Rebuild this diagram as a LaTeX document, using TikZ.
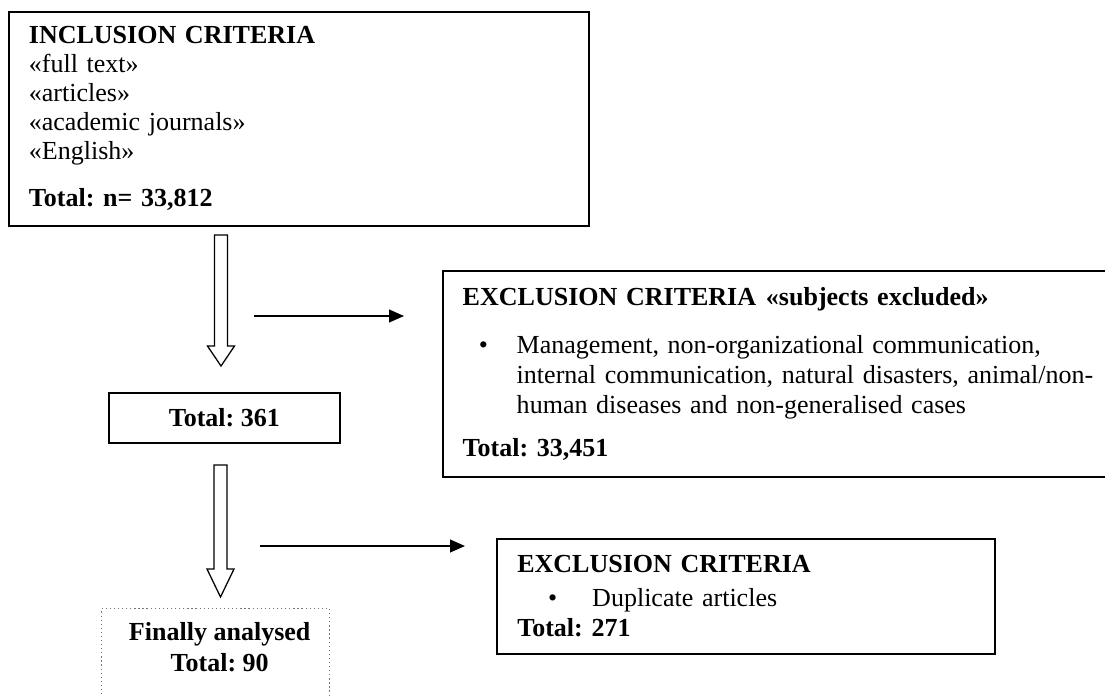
\documentclass[tikz,border=0pt]{standalone}
\usepackage{fontspec}
\setmainfont{Liberation Serif}
\usetikzlibrary{arrows.meta, calc}
\tikzset{
  flowfig/.style={
    x=0.025cm, y=-0.025cm,
    every node/.append style={font=\fontsize{18.5pt}{20.6pt}\selectfont\frenchspacing},
    >={Triangle[length=10.5pt, width=9pt]},
  },
  critbox/.style={
    draw=black, line width=1.1pt, anchor=north west, align=left,
    inner xsep=14.2pt, inner ysep=0pt,
  },
  totalbox/.style={draw=black, line width=1.1pt, anchor=north west, inner sep=0pt},
  % Letzter Kasten: gepunktet, unten abgeschnitten.
  finalbox/.style={draw=black!55, line width=0.9pt, dotted, anchor=north west, inner sep=0pt},
  finaltext/.style={anchor=north, align=center, inner sep=0pt,
    font=\fontsize{18.5pt}{22pt}\selectfont\bfseries\frenchspacing},
  flow/.style={draw=black, line width=1pt, ->},
  hollowarrow/.style={draw=black, line width=0.9pt, fill=white},
}
% hohler Pfeil nach unten: Start, Spitze, Kopflaenge
\newcommand{\hollowdown}[3]{%
  \draw[hollowarrow] let \p1=(#1), \p2=(#2) in
    (\x1-4.6pt,\y1) -- (\x1+4.6pt,\y1) -- (\x1+4.6pt,\y2+#3) -- (\x1+9.6pt,\y2+#3)
    -- (\x2,\y2) -- (\x1-9.6pt,\y2+#3) -- (\x1-4.6pt,\y2+#3) -- cycle;}

\begin{document}
\begin{tikzpicture}[flowfig]
  \useasboundingbox (0,0) rectangle (1105,697);

  \node[critbox, minimum width=412.6pt, minimum height=152.2pt, text width=384pt] (incl) at (8,11)
    {\textbf{INCLUSION CRITERIA}\\ «full text»\\ «articles»\\ «academic journals»\\ «English»\\[12.8pt]
     \textbf{Total: n= 33,812}};

  \node[totalbox, minimum width=164.3pt, minimum height=35.6pt] (n361) at (108,392)
    {\textbf{Total: 361}};

  \node[critbox, minimum width=475.1pt, minimum height=146.5pt, text width=455pt,
        font=\fontsize{18.5pt}{21.3pt}\selectfont\frenchspacing] (excl1) at (442,270)
    {\textbf{EXCLUSION CRITERIA\hspace{7pt}«subjects excluded»}\\[12.8pt]
     \hspace*{11.4pt}\makebox[27pt][l]{\textbullet}\parbox[t]{430pt}{Management, non-organizational communication,\\
       internal communication, natural disasters, animal/non-\\
       human diseases and non-generalised cases}\\[12.8pt]
     \textbf{Total: 33,451}};

  \node[critbox, minimum width=354.2pt, minimum height=81.8pt, text width=325pt,
        inner xsep=13.5pt, font=\fontsize{18.5pt}{21.3pt}\selectfont\frenchspacing] (excl2) at (496,538)
    {\textbf{EXCLUSION CRITERIA}\\[2.9pt]
     \hspace*{22pt}\makebox[31.3pt][l]{\textbullet}Duplicate articles\\
     \textbf{Total: 271}};

  \node[finalbox, minimum width=162.2pt, minimum height=85.4pt] (final) at (101,608) {};
  \node[finaltext] (finaltxt) at ($(final.north)+(4,14)$) {Finally analysed\\ Total: 90};

  \coordinate (a1top) at (221,235);
  \coordinate (a1tip) at (221,366);
  \coordinate (a2top) at (220.5,465);
  \coordinate (a2tip) at (220.5,597);
  \hollowdown{a1top}{a1tip}{14.2pt}
  \hollowdown{a2top}{a2tip}{19.9pt}

  \coordinate (t1s) at (254,316);
  \coordinate (t1e) at (404,316);
  \coordinate (t2s) at (260,546);
  \coordinate (t2e) at (465,546);
  \draw[flow] (t1s) -- (t1e);
  \draw[flow] (t2s) -- (t2e);
\end{tikzpicture}
\end{document}
